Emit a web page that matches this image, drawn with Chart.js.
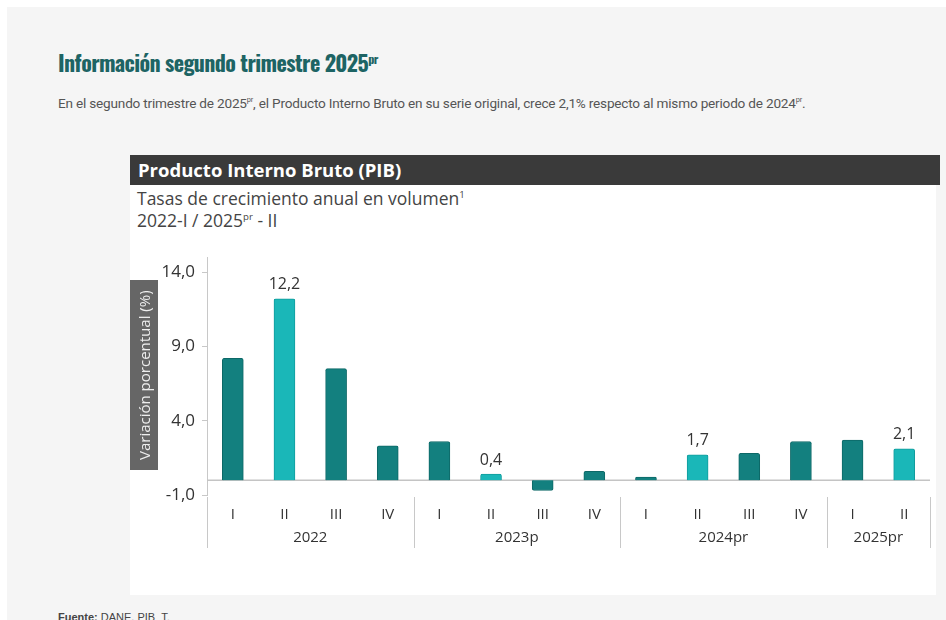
<!DOCTYPE html>
<html>
<head>
<meta charset="utf-8">
<script src="https://cdn.jsdelivr.net/npm/chart.js@4.4.1/dist/chart.umd.min.js"></script>
<style>
    body { margin: 0; background: #fff; width: 946px; height: 620px; overflow: hidden; position: relative; font-family: "Open Sans", sans-serif; }
    .page { position: absolute; left: 7px; top: 7px; right: 0; bottom: 0; background: #f5f5f5; }
    .titulo { position: absolute; left: 58px; top: 46px; margin: 0; font-family: "Oswald", "Liberation Sans Narrow", "DejaVu Sans Condensed", sans-serif; font-stretch: condensed; font-weight: bold; font-size: 22px; color: #1d6464; letter-spacing: -0.6px; }
    sup { font-size: 0.55em; line-height: 0; }
    .texto { position: absolute; left: 58px; top: 95px; margin: 0; font-family: Roboto, sans-serif; font-size: 13.6px; color: #555; letter-spacing: -0.2px; }
    .cabecera { position: absolute; left: 130px; top: 155px; width: 810px; height: 30px; background: #3a3a3a; color: #fff; font-weight: bold; font-size: 18.5px; line-height: 30px; padding-left: 8px; box-sizing: border-box; }
    .panel { position: absolute; left: 130px; top: 185px; width: 806px; height: 410px; background: #fff; }
    .sub { position: absolute; left: 137px; top: 187px; font-size: 17.5px; color: #444; line-height: 22px; }
    .ytitulo { position: absolute; left: 130px; top: 280px; width: 28px; height: 190px; background: #666; color: #eee; font-size: 15px; writing-mode: vertical-rl; transform: rotate(180deg); text-align: center; line-height: 28px; }
    .grafico { position: absolute; left: 130px; top: 240px; width: 806px; height: 355px; }
    .fuente { position: absolute; left: 58px; top: 611px; font-family: "Liberation Sans", Arial, sans-serif; font-size: 11px; color: #444; }
</style>
</head>
<body>
<div class="page"></div>
<h1 class="titulo">Información segundo trimestre 2025<sup>pr</sup></h1>
<p class="texto">En el segundo trimestre de 2025<sup>pr</sup>, el Producto Interno Bruto en su serie original, crece 2,1% respecto al mismo periodo de 2024<sup>pr</sup>.</p>
<div class="cabecera">Producto Interno Bruto (PIB)</div>
<div class="panel"></div>
<div class="sub">Tasas de crecimiento anual en volumen<sup>1</sup><br>2022-I / 2025<sup>pr</sup> - II</div>
<div class="grafico"><canvas id="pibChart"></canvas></div>
<div class="ytitulo">Variación porcentual (%)</div>
<div class="fuente"><b>Fuente:</b> DANE, PIB_T.</div>

<script>
// Datos
const quarters = ['I', 'II', 'III', 'IV', 'I', 'II', 'III', 'IV', 'I', 'II', 'III', 'IV', 'I', 'II'];
const years = ['2022', '2023p', '2024pr', '2025pr'];
const quartersPerYear = [4, 4, 4, 2];
const growth = [8.2, 12.2, 7.5, 2.3, 2.6, 0.4, -0.7, 0.6, 0.2, 1.7, 1.8, 2.6, 2.7, 2.1];
const yTicks = [-1, 4, 9, 14];

const darkTeal = '#13807f';
const lightTeal = '#1ab7b8';

function formatComma(v) {
    return v.toFixed(1).replace('.', ',');
}

// Segundo trimestre de cada año resaltado
function isHighlighted(i) {
    return quarters[i] === 'II';
}

const pibPlugin = {
    id: 'pibPlugin',
    beforeDatasetsDraw(chart) {
        const ctx = chart.ctx;
        const y = chart.scales.y;
        const area = chart.chartArea;
        const y0 = y.getPixelForValue(0);
        ctx.save();
        ctx.strokeStyle = '#c4c4c4';
        ctx.lineWidth = 1.5;
        ctx.beginPath();
        ctx.moveTo(area.left, y0);
        ctx.lineTo(area.right, y0);
        ctx.stroke();
        ctx.restore();
    },
    afterDatasetsDraw(chart) {
        const ctx = chart.ctx;
        const meta = chart.getDatasetMeta(0);
        ctx.save();
        ctx.font = '16px "Open Sans", sans-serif';
        ctx.fillStyle = '#333';
        ctx.textAlign = 'center';
        ctx.textBaseline = 'bottom';
        meta.data.forEach((bar, i) => {
            if (isHighlighted(i)) {
                ctx.fillText(formatComma(growth[i]), bar.x, Math.min(bar.y, bar.base) - 6);
            }
        });
        ctx.restore();
    },
    afterDraw(chart) {
        const ctx = chart.ctx;
        const x = chart.scales.x;
        const area = chart.chartArea;
        ctx.save();
        ctx.strokeStyle = '#c8c8c8';
        ctx.lineWidth = 1;
        ctx.font = '15px "Open Sans", sans-serif';
        ctx.fillStyle = '#333';
        ctx.textAlign = 'center';
        ctx.textBaseline = 'middle';
        let start = 0;
        quartersPerYear.forEach((n, g) => {
            const end = start + n - 1;
            const left = start === 0 ? area.left : (x.getPixelForValue(start - 1) + x.getPixelForValue(start)) / 2;
            const right = end === quarters.length - 1 ? area.right : (x.getPixelForValue(end) + x.getPixelForValue(end + 1)) / 2;
            ctx.beginPath();
            ctx.moveTo(Math.round(left) + 0.5, area.bottom + 2);
            ctx.lineTo(Math.round(left) + 0.5, area.bottom + 53);
            ctx.stroke();
            if (end === quarters.length - 1) {
                ctx.beginPath();
                ctx.moveTo(Math.round(right) + 0.5, area.bottom + 2);
                ctx.lineTo(Math.round(right) + 0.5, area.bottom + 53);
                ctx.stroke();
            }
            ctx.fillText(years[g], (left + right) / 2, area.bottom + 43);
            start += n;
        });
        ctx.restore();
    }
};

const chart = new Chart(document.getElementById('pibChart'), {
    type: 'bar',
    data: {
        labels: quarters,
        datasets: [{
            data: growth,
            backgroundColor: growth.map((v, i) => isHighlighted(i) ? lightTeal : darkTeal),
            borderColor: growth.map((v, i) => isHighlighted(i) ? '#129c9d' : '#0d6867'),
            borderWidth: 1,
            borderRadius: 2,
            borderSkipped: 'start',
            barThickness: 21
        }]
    },
    options: {
        responsive: true,
        maintainAspectRatio: false,
        animation: false,
        layout: { padding: { top: 13, right: 6, left: 0, bottom: 0 } },
        plugins: {
            legend: { display: false },
            tooltip: { enabled: false }
        },
        scales: {
            x: {
                grid: { display: false, drawTicks: false },
                border: { display: false },
                ticks: {
                    color: '#333',
                    padding: 11,
                    maxRotation: 0,
                    font: { family: 'Open Sans', size: 15 }
                },
                afterFit(scale) { scale.height = 100; }
            },
            y: {
                min: -1,
                max: 15,
                afterBuildTicks(scale) {
                    scale.ticks = yTicks.map(v => ({ value: v }));
                },
                grid: { drawOnChartArea: false, color: '#c8c8c8', tickLength: 5 },
                border: { display: true, color: '#c8c8c8' },
                ticks: {
                    color: '#333',
                    padding: 7,
                    font: { family: 'Open Sans', size: 17 },
                    callback: v => formatComma(v)
                },
                afterFit(scale) { scale.width = 77; }
            }
        }
    },
    plugins: [pibPlugin]
});
</script>
</body>
</html>
